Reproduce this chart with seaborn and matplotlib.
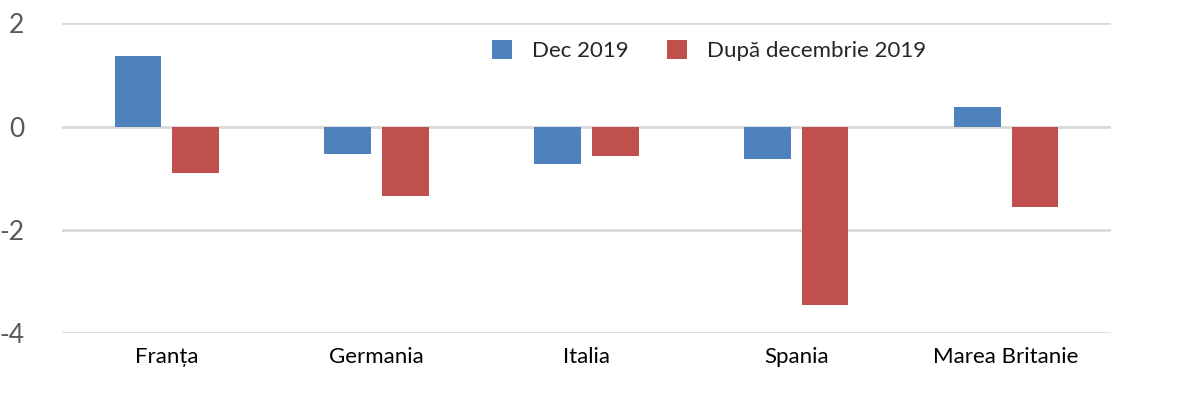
import seaborn as sns
import matplotlib.pyplot as plt
import pandas as pd

# chart values
countries = ['Franța', 'Germania', 'Italia', 'Spania', 'Marea Britanie']
dec_2019 = [1.37, -0.52, -0.73, -0.62, 0.39]
dupa_dec_2019 = [-0.90, -1.34, -0.57, -3.45, -1.55]
series_names = ['Dec 2019', 'După decembrie 2019']
yticks = [2, 0, -2, -4]

df = pd.DataFrame({
    'country': countries * 2,
    'value': dec_2019 + dupa_dec_2019,
    'series': [series_names[0]] * len(countries) + [series_names[1]] * len(countries),
})

sns.set_style('white')
plt.rcParams['font.family'] = ['Lato', 'DejaVu Sans']
plt.rcParams['axes.unicode_minus'] = False

fig = plt.figure(figsize=(11.8, 3.95), dpi=100)
ax = fig.add_axes([0.0525, 0.156, 0.889, 0.785])

palette = {series_names[0]: '#4F81BD', series_names[1]: '#C0504D'}
sns.barplot(data=df, x='country', y='value', hue='series', palette=palette,
            width=0.55, gap=0.19, saturation=1, linewidth=0, ax=ax, zorder=3)

ax.set_ylim(-4, 2)
ax.set_xlim(-0.5, len(countries) - 0.5)
ax.set_yticks(yticks)
ax.yaxis.grid(True, color='#D9D9D9', linewidth=2)
ax.set_axisbelow(True)
for s in ax.spines.values():
    s.set_visible(False)
ax.set_xlabel('')
ax.set_ylabel('')
ax.tick_params(axis='y', labelsize=19, labelcolor='#595959', pad=27, length=0)
ax.tick_params(axis='x', labelsize=16, labelcolor='black', pad=10, length=0)

leg = ax.legend(loc='upper center', bbox_to_anchor=(0.617, 1.01), ncol=2, frameon=False,
                fontsize=16, handlelength=0.9, handleheight=0.9, handletextpad=0.9,
                columnspacing=1.7)

fig.savefig('out.png', dpi=100)
